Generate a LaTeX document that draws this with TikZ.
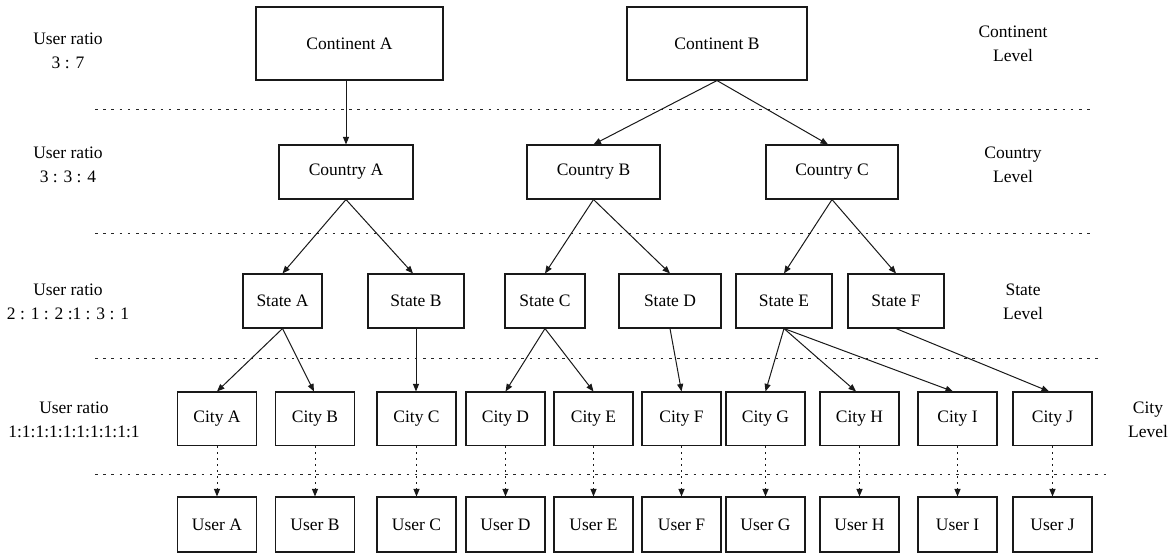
\documentclass[tikz,border=0pt]{standalone}
\usepackage{fontspec}
\setmainfont{Liberation Serif}
\usetikzlibrary{arrows.meta}
\begin{document}
\begin{tikzpicture}[x=1pt,y=-1pt,
  font=\fontsize{17.5}{24}\selectfont,
  box/.style={draw=black!90, line width=1.1pt, rectangle, inner sep=0pt, minimum height=54pt},
  cbox/.style={box, minimum width=79pt, minimum height=53.5pt},
  ubox/.style={box, minimum width=79pt, minimum height=55pt},
  lbl/.style={align=center, inner sep=0pt},
  arr/.style={draw=black!90, line width=1pt, -{Triangle[length=7.5pt,width=6pt]}},
  darr/.style={draw=black!90, line width=1pt, dash pattern=on 1.6pt off 4.4pt, -{Triangle[length=7.5pt,width=6pt]}},
  sep/.style={draw=black!85, line width=1pt, dash pattern=on 2.6pt off 5.6pt}
]
\useasboundingbox (0,0) rectangle (1174,553);
\fill[white] (0,0) rectangle (1174,553);

% continent level
\node[box, minimum width=187pt, minimum height=73pt] (contA) at (349.5,43.5) {Continent A};
\node[box, minimum width=180pt, minimum height=73pt] (contB) at (717,43.5) {Continent B};
% country level
\node[box, minimum width=134pt] (countryA) at (346,172) {Country A};
\node[box, minimum width=133pt] (countryB) at (593.5,172) {Country B};
\node[box, minimum width=132pt] (countryC) at (832,172) {Country C};
% state level
\node[box, minimum width=79pt] (stateA) at (282.5,301) {State A};
\node[box, minimum width=96pt] (stateB) at (416,301) {State B};
\node[box, minimum width=80pt] (stateC) at (545,301) {State C};
\node[box, minimum width=102pt] (stateD) at (670,301) {State D};
\node[box, minimum width=96pt] (stateE) at (784,301) {State E};
\node[box, minimum width=96pt] (stateF) at (896,301) {State F};
% city level
\node[cbox] (cityA) at (217,418.75) {City A};
\node[cbox] (cityB) at (315,418.75) {City B};
\node[cbox] (cityC) at (416.5,418.75) {City C};
\node[cbox] (cityD) at (505.5,418.75) {City D};
\node[cbox] (cityE) at (593.5,418.75) {City E};
\node[cbox] (cityF) at (681.5,418.75) {City F};
\node[cbox] (cityG) at (765.5,418.75) {City G};
\node[cbox] (cityH) at (859.5,418.75) {City H};
\node[cbox] (cityI) at (957.5,418.75) {City I};
\node[cbox] (cityJ) at (1052.5,418.75) {City J};
% users
\node[ubox] (userA) at (217,524.5) {User A};
\node[ubox] (userB) at (315,524.5) {User B};
\node[ubox] (userC) at (416.5,524.5) {User C};
\node[ubox] (userD) at (505.5,524.5) {User D};
\node[ubox] (userE) at (593.5,524.5) {User E};
\node[ubox] (userF) at (681.5,524.5) {User F};
\node[ubox] (userG) at (765.5,524.5) {User G};
\node[ubox] (userH) at (859.5,524.5) {User H};
\node[ubox] (userI) at (957.5,524.5) {User I};
\node[ubox] (userJ) at (1052.5,524.5) {User J};

% level separators
\coordinate (s1a) at (95,110);  \coordinate (s1b) at (1093,110);
\coordinate (s2a) at (95,234);  \coordinate (s2b) at (1093,234);
\coordinate (s3a) at (95,358);  \coordinate (s3b) at (1101,358);
\coordinate (s4a) at (95,474);  \coordinate (s4b) at (1109,474);
\draw[sep] (s1a) -- (s1b);
\draw[sep] (s2a) -- (s2b);
\draw[sep] (s3a) -- (s3b);
\draw[sep] (s4a) -- (s4b);

% left labels
\node[lbl] (lr1) at (68,51) {User ratio\\3 : 7};
\node[lbl] (lr2) at (68,165) {User ratio\\3 : 3 : 4};
\node[lbl] (lr3) at (68,302) {User ratio\\2 : 1 : 2 :1 : 3 : 1};
\node[lbl] (lr4) at (74,420) {User ratio\\1:1:1:1:1:1:1:1:1:1};
% right labels
\node[lbl] (rl1) at (1013,44) {Continent\\Level};
\node[lbl] (rl2) at (1013,165) {Country\\Level};
\node[lbl] (rl3) at (1023,302) {State\\Level};
\node[lbl] (rl4) at (1148,420) {City\\Level};

% connectors
\draw[arr] (contA.south -| countryA) -- (countryA.north);
\draw[arr] (contB.south) -- (countryB.north);
\draw[arr] (contB.south) -- ([xshift=-4pt]countryC.north);
\draw[arr] (countryA.south) -- (stateA.north);
\draw[arr] (countryA.south) -- ([xshift=-3pt]stateB.north);
\draw[arr] (countryB.south) -- (stateC.north);
\draw[arr] (countryB.south) -- (stateD.north);
\draw[arr] (countryC.south) -- (stateE.north);
\draw[arr] (countryC.south) -- (stateF.north);
\draw[arr] (stateA.south) -- (cityA.north);
\draw[arr] (stateA.south) -- ([xshift=-1pt]cityB.north);
\draw[arr] (stateB.south) -- (cityC.north -| stateB.south);
\draw[arr] (stateC.south) -- (cityD.north);
\draw[arr] (stateC.south) -- (cityE.north);
\draw[arr] (stateD.south) -- (cityF.north);
\draw[arr] (stateE.south) -- (cityG.north);
\draw[arr] (stateE.south) -- ([xshift=-3.5pt]cityH.north);
\draw[arr] (stateE.south) -- ([xshift=-4.5pt]cityI.north);
\draw[arr] (stateF.south) -- ([xshift=-3.5pt]cityJ.north);

\foreach \c in {A,B,C,D,E,F,G,H,I,J}{
  \draw[darr] (city\c.south) -- (user\c.north);
}
\end{tikzpicture}
\end{document}
